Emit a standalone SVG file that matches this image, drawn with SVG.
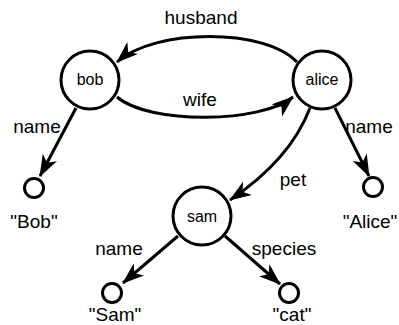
<svg xmlns="http://www.w3.org/2000/svg" width="399" height="325" viewBox="0 0 399 325">
<style>
.node{fill:#fff;stroke:#000;stroke-width:3}
.lit{fill:#fff;stroke:#000;stroke-width:3}
.edge{fill:none;stroke:#000;stroke-width:3;marker-end:url(#arr)}
text{font-family:"Liberation Sans",Arial,sans-serif;fill:#000;text-anchor:middle}
.nl{font-size:16px}
.el{font-size:19px}
</style>
<defs>
<marker id="arr" viewBox="0 0 22 16" refX="21" refY="8" markerWidth="22" markerHeight="16" markerUnits="userSpaceOnUse" orient="auto">
<path d="M0,0 L22,8 L0,16 L6,8 z" fill="#000"/>
</marker>
</defs>
<g id="connectors">
<path class="edge" d="M297,62 C265,28 155,28 117,62"/>
<path class="edge" d="M117,97 C150,125 262,123 293,97"/>
<path class="edge" d="M76,108 L40,176"/>
<path class="edge" d="M335,108 L369,176"/>
<path class="edge" d="M310,108 Q290,160 230,200"/>
<path class="edge" d="M178,236 L123,283"/>
<path class="edge" d="M225,236 L280,284"/>
<text class="el" x="201" y="24">husband</text>
<text class="el" x="200" y="106">wife</text>
<text class="el" x="37" y="133">name</text>
<text class="el" x="369" y="133">name</text>
<text class="el" x="293" y="186">pet</text>
<text class="el" x="119" y="255">name</text>
<text class="el" x="284" y="255">species</text>
</g>
<g id="bob"><circle class="node" cx="90" cy="80" r="29"/><text class="nl" x="90" y="85">bob</text></g>
<g id="alice"><circle class="node" cx="322" cy="80" r="29"/><text class="nl" x="322" y="85">alice</text></g>
<g id="sam"><circle class="node" cx="202" cy="216" r="29"/><text class="nl" x="202" y="222">sam</text></g>
<g id="lit-bob"><circle class="lit" cx="34" cy="188" r="9.5"/><text class="el" x="34" y="228">"Bob"</text></g>
<g id="lit-alice"><circle class="lit" cx="373" cy="187" r="9.5"/><text class="el" x="370" y="228">"Alice"</text></g>
<g id="lit-sam"><circle class="lit" cx="112" cy="293" r="9.5"/><text class="el" x="115" y="321">"Sam"</text></g>
<g id="lit-cat"><circle class="lit" cx="289" cy="293" r="9.5"/><text class="el" x="292" y="321">"cat"</text></g>
</svg>
